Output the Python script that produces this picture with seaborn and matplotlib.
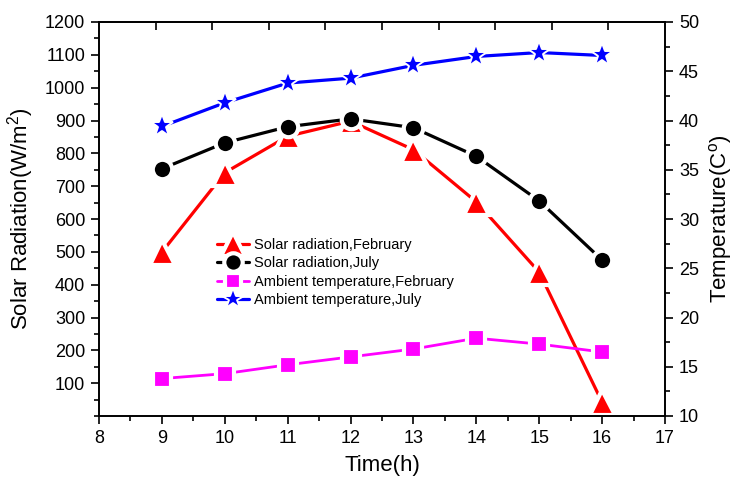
import matplotlib
matplotlib.use("Agg")
import matplotlib.pyplot as plt
import seaborn as sns
import numpy as np
from matplotlib.ticker import MultipleLocator, FixedLocator, NullFormatter

hours = [9, 10, 11, 12, 13, 14, 15, 16]
solar_feb = [499, 741, 852, 898, 811, 652, 438, 42]
solar_jul = [753, 832, 881, 905, 878, 791, 655, 475]
temp_feb = [13.8, 14.3, 15.2, 16.0, 16.8, 17.9, 17.3, 16.5]
temp_jul = [39.4, 41.8, 43.8, 44.3, 45.6, 46.5, 46.9, 46.6]

labels = ["Solar radiation,February", "Solar radiation,July",
          "Ambient temperature,February", "Ambient temperature,July"]

sns.set_theme(style="white")
plt.rcParams['font.family'] = ['Liberation Sans', 'DejaVu Sans']
plt.rcParams['mathtext.fontset'] = 'custom'
plt.rcParams['mathtext.rm'] = 'Liberation Sans'
plt.rcParams['mathtext.it'] = 'Liberation Sans'
plt.rcParams['text.color'] = 'black'
plt.rcParams['axes.labelcolor'] = 'black'
plt.rcParams['xtick.color'] = 'black'
plt.rcParams['ytick.color'] = 'black'

fig = plt.figure(figsize=(7.39, 4.82), dpi=100)
ax = fig.add_axes([99/739, 1-416/482, (665-99)/739, (416-22)/482])
ax2 = ax.twinx()

mew = 3.0
sns.lineplot(x=hours, y=solar_feb, ax=ax, color='#FF0000', marker='^', markersize=18,
             linewidth=2.3, markeredgecolor='white', markeredgewidth=mew, label=labels[0], legend=False)
sns.lineplot(x=hours, y=solar_jul, ax=ax, color='black', marker='o', markersize=14,
             linewidth=2.3, markeredgecolor='white', markeredgewidth=mew, label=labels[1], legend=False)
sns.lineplot(x=hours, y=temp_feb, ax=ax2, color='#FF00FF', marker='s', markersize=12.5,
             linewidth=2.0, markeredgecolor='white', markeredgewidth=mew, label=labels[2], legend=False)
sns.lineplot(x=hours, y=temp_jul, ax=ax2, color='#0000FF', marker='*', markersize=17,
             linewidth=2.3, markeredgecolor='white', markeredgewidth=1.4, label=labels[3], legend=False)

ax.set_xlim(8, 17)
ax.set_ylim(0, 1200)
ax2.set_ylim(10, 50)

ax.xaxis.set_major_locator(MultipleLocator(1))
ax.xaxis.set_minor_locator(MultipleLocator(0.5))
ax.yaxis.set_major_locator(FixedLocator(list(range(100, 1201, 100))))
ax.yaxis.set_minor_locator(MultipleLocator(50))
ax2.yaxis.set_major_locator(MultipleLocator(5))
ax2.yaxis.set_minor_locator(MultipleLocator(2.5))

for a in (ax, ax2):
    for s in a.spines.values():
        s.set_color('black')
        s.set_linewidth(1.2)
    a.grid(False)

ax.tick_params(axis='both', which='major', direction='out', length=6, width=1.2, labelsize=13, colors='black', pad=4)
ax.tick_params(axis='both', which='minor', direction='out', length=3.5, width=1.2)
ax.tick_params(axis='y', which='both', left=True, right=False)
ax.tick_params(axis='x', which='both', bottom=True, top=False)
ax2.tick_params(axis='y', which='major', direction='out', length=6, width=1.2, labelsize=13, colors='black', right=True, pad=4)
ax2.tick_params(axis='y', which='minor', direction='out', length=3.5, width=1.2, right=True)

# top ticks (inward)
top = ax.secondary_xaxis('top')
top.set_xticks([8 + 0.9 * k for k in range(1, 10)])
top.xaxis.set_major_formatter(NullFormatter())
top.tick_params(direction='in', length=6, width=1.2, colors='black')
top.spines['top'].set_linewidth(1.2)

ax.set_xlabel("Time(h)", fontsize=16, labelpad=6, color='black')
ax.set_ylabel("Solar Radiation(W/m$^{2}$)", fontsize=16, labelpad=6, color='black')
ax2.set_ylabel("Temperature(C$^{\\mathrm{o}}$)", fontsize=16, labelpad=6, color='black')

h1, l1 = ax.get_legend_handles_labels()
h2, l2 = ax2.get_legend_handles_labels()
leg = ax2.legend(h1 + h2, l1 + l2, loc='upper left', bbox_to_anchor=(0.2085, 0.452),
                 frameon=False, fontsize=10.5, handlelength=2.2, handletextpad=0.35,
                 labelspacing=0.3, borderpad=0, borderaxespad=0, markerscale=0.95)
for t in leg.get_texts():
    t.set_color('black')

fig.savefig("out.png", dpi=100)
